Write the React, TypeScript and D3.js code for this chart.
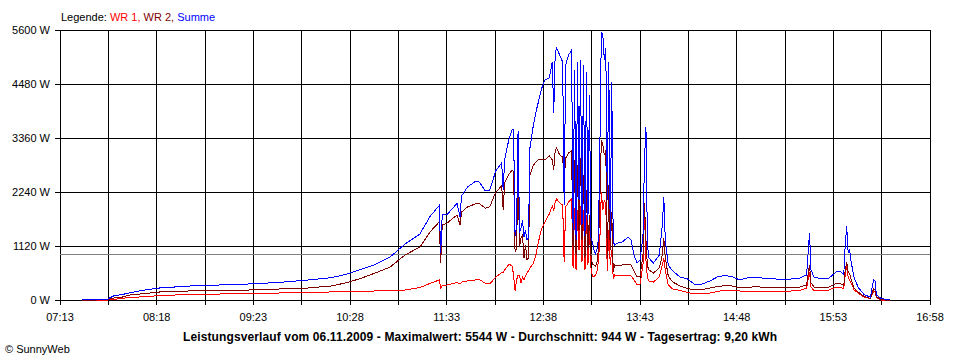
import * as d3 from 'd3';

// Time stamps of the samples (HH:MM) and power per inverter in W
const times = [
  '07:28', '07:38', '07:45', '07:49', '07:55', '08:00', '08:10', '08:20', '08:40', '09:00',
  '09:20', '09:40', '10:00', '10:15', '10:25', '10:35', '10:45', '10:55', '11:05', '11:15',
  '11:22', '11:28', '11:29', '11:30', '11:33', '11:40', '11:42', '11:43', '11:47', '11:52',
  '11:55', '11:59', '12:02', '12:06', '12:10', '12:11', '12:12', '12:15', '12:17', '12:18',
  '12:19', '12:20', '12:21', '12:22', '12:23', '12:24', '12:25', '12:26', '12:27', '12:28',
  '12:29', '12:31', '12:33', '12:35', '12:37', '12:39', '12:42', '12:44', '12:45', '12:46',
  '12:47', '12:49', '12:51', '12:52', '12:53', '12:55', '12:57', '12:58', '12:59', '13:00',
  '13:01', '13:02', '13:03', '13:04', '13:05', '13:06', '13:07', '13:08', '13:09', '13:10',
  '13:11', '13:12', '13:13', '13:14', '13:15', '13:16', '13:17', '13:18', '13:19', '13:20',
  '13:21', '13:22', '13:23', '13:24', '13:25', '13:26', '13:28', '13:31', '13:35', '13:37',
  '13:39', '13:41', '13:43', '13:45', '13:46', '13:47', '13:48', '13:49', '13:52', '13:56',
  '13:58', '13:59', '14:00', '14:02', '14:05', '14:10', '14:15', '14:20', '14:25', '14:30',
  '14:35', '14:40', '14:45', '14:50', '14:55', '15:00', '15:10', '15:20', '15:25', '15:30',
  '15:35', '15:37', '15:38', '15:40', '15:45', '15:50', '15:55', '15:58', '16:00', '16:01',
  '16:02', '16:03', '16:04', '16:05', '16:07', '16:10', '16:14', '16:18', '16:20', '16:21',
  '16:22', '16:25', '16:28', '16:31',
];

const wr1 = [
  0, 0, 0, 10, 35, 52, 68, 93, 114, 124,
  135, 145, 160, 166, 172, 176, 187, 197, 207, 259,
  346, 415, 249, 300, 311, 363, 330, 373, 394, 415,
  425, 346, 332, 477, 570, 560, 622, 747, 705, 519,
  187, 415, 519, 498, 353, 477, 415, 498, 560, 601,
  664, 747, 933, 1244, 1493, 1618, 1784, 1950, 1867, 2033,
  2095, 2012, 1970, 788, 1929, 2033, 2095, 664, 1908, 622,
  1867, 1037, 1950, 788, 1867, 622, 1763, 726, 1452, 664,
  498, 477, 519, 581, 788, 1244, 2240, 1867, 2074, 1970,
  601, 1452, 726, 1037, 456, 519, 498, 498, 508, 498,
  415, 311, 326, 726, 1825, 830, 456, 394, 373, 477,
  726, 871, 622, 311, 228, 197, 156, 124, 135, 145,
  176, 207, 201, 187, 180, 176, 172, 176, 187, 193,
  249, 581, 270, 197, 197, 207, 270, 259, 239, 519,
  726, 456, 415, 353, 207, 135, 56, 31, 176, 166,
  48, 0, 0, 0,
];

const wr2 = [
  0, 0, 10, 40, 62, 104, 135, 166, 187, 197,
  207, 228, 249, 290, 353, 445, 560, 684, 933, 1099,
  1420, 1618, 767, 1560, 1590, 1763, 1555, 1825, 1929, 1991,
  2001, 1902, 1935, 2240, 2364, 1867, 2427, 2613, 2696, 2655,
  996, 1078, 2675, 1099, 1286, 1348, 871, 1141, 830, 871,
  2593, 2779, 2862, 2924, 2924, 2904, 2987, 2904, 2696, 3111,
  3153, 3007, 2966, 2447, 2945, 3049, 3090, 1037, 2904, 933,
  2800, 1452, 2945, 1244, 2593, 871, 2281, 1037, 1763, 933,
  747, 726, 705, 767, 1037, 2074, 3318, 3215, 3007, 3111,
  871, 2385, 1037, 1825, 581, 726, 705, 726, 747, 726,
  601, 487, 498, 933, 2012, 1244, 705, 622, 560, 664,
  933, 1286, 871, 498, 373, 290, 239, 207, 218, 249,
  280, 297, 290, 249, 259, 276, 259, 253, 259, 263,
  311, 726, 353, 270, 249, 270, 342, 332, 301, 622,
  788, 581, 539, 415, 249, 156, 68, 35, 228, 207,
  62, 15, 0, 0,
];

const summe = [
  15, 15, 20, 83, 114, 151, 207, 249, 290, 311,
  332, 363, 415, 462, 529, 630, 735, 892, 1161, 1369,
  1740, 1960, 969, 1770, 1763, 2006, 1721, 2157, 2344, 2453,
  2447, 2261, 2281, 2675, 2841, 2281, 2904, 3360, 3526, 3526,
  1327, 1535, 3505, 1390, 1493, 1659, 1307, 1452, 1244, 1286,
  3153, 3567, 3899, 4148, 4397, 4563, 4604, 4936, 3878, 5143,
  5226, 5081, 4936, 1970, 4874, 5081, 5185, 1452, 4770, 1244,
  4936, 2074, 4977, 1555, 4874, 1327, 4729, 1659, 4252, 1286,
  1203, 1037, 954, 1037, 1244, 3111, 5544, 5517, 4977, 5226,
  2074, 4936, 1286, 4521, 1203, 1141, 1182, 1203, 1307, 1244,
  933, 767, 830, 1327, 2904, 3588, 1141, 871, 767, 933,
  1555, 2136, 1244, 726, 601, 477, 436, 321, 332, 394,
  477, 508, 487, 415, 456, 467, 446, 421, 436, 450,
  519, 1390, 622, 477, 436, 456, 581, 581, 519, 1141,
  1535, 975, 1037, 788, 456, 249, 104, 62, 415, 394,
  104, 35, 15, 0,
];

const yTicks = [0, 1120, 2240, 3360, 4480, 5600];
const average = 944;
const legendItems = [
  { label: 'WR 1, ', color: '#ff0000' },
  { label: 'WR 2, ', color: '#800000' },
  { label: 'Summe', color: '#0000ff' },
];
const titleText =
  'Leistungsverlauf vom 06.11.2009 - Maximalwert: 5544 W - Durchschnitt: 944 W - Tagesertrag: 9,20 kWh';

const W = 960;
const H = 360;
const margin = { left: 60, right: 30, top: 30, bottom: 60 };
const font = '"Liberation Sans", Arial, sans-serif';

export default function App() {
  const parse = d3.timeParse('%H:%M');
  const fmt = d3.timeFormat('%H:%M');
  const t0 = parse('07:13') as Date;
  const t1 = parse('16:58') as Date;

  const x = d3.scaleTime().domain([t0, t1]).range([margin.left, W - margin.right]);
  const y = d3.scaleLinear().domain([0, 5600]).range([H - margin.bottom, margin.top]);

  // vertical grid every 32.5 minutes (18 steps), labels on every second one
  const step = 32.5 * 60000;
  const xTicks = d3.range(0, 19).map((i) => new Date(t0.getTime() + i * step));

  const dates = times.map((t) => parse(t) as Date);
  const line = d3
    .line<number>()
    .x((_, i) => x(dates[i]))
    .y((v) => y(v));

  const series = [
    { values: wr1, color: '#ff0000' },
    { values: wr2, color: '#800000' },
    { values: summe, color: '#0000ff' },
  ];

  const x0 = margin.left;
  const x1 = W - margin.right;
  const yb = H - margin.bottom;

  return (
    <svg
      width={W}
      height={H}
      style={{ position: 'absolute', left: 0, top: 0, background: '#fff' }}
      fontFamily={font}
    >
      {/* legend */}
      <text x={61} y={20.5} fontSize={11}>
        <tspan fill="#000">Legende: </tspan>
        {legendItems.map((d) => (
          <tspan key={d.label} fill={d.color}>
            {d.label}
          </tspan>
        ))}
      </text>

      {/* grid */}
      <g shapeRendering="crispEdges" stroke="#000" strokeWidth={1}>
        {yTicks.map((v) => (
          <line key={v} x1={x0 - 5} x2={x1} y1={y(v)} y2={y(v)} />
        ))}
        {xTicks.map((t, i) => (
          <line key={i} x1={x(t)} x2={x(t)} y1={margin.top} y2={yb + 5} />
        ))}
      </g>

      {/* y labels */}
      {yTicks.map((v) => (
        <text key={v} x={50} y={y(v) + 4} fontSize={11} textAnchor="end">
          {v} W
        </text>
      ))}

      {/* x labels */}
      {xTicks
        .filter((_, i) => i % 2 === 0)
        .map((t, i) => (
          <text key={i} x={x(t)} y={321} fontSize={11} textAnchor="middle">
            {fmt(t)}
          </text>
        ))}

      {/* average */}
      <line
        x1={x0}
        x2={x1}
        y1={Math.round(y(average)) + 0.5}
        y2={Math.round(y(average)) + 0.5}
        stroke="#808080"
        strokeWidth={1}
      />

      {/* series */}
      {series.map((s) => (
        <path
          key={s.color}
          d={line(s.values) ?? ''}
          fill="none"
          stroke={s.color}
          strokeWidth={1}
          shapeRendering="crispEdges"
        />
      ))}

      <text
        x={183}
        y={340.5}
        fontSize={12}
        fontWeight="bold"
        textLength={594}
        lengthAdjust="spacing"
      >
        {titleText}
      </text>
      <text x={5} y={352.5} fontSize={11}>
        © SunnyWeb
      </text>
    </svg>
  );
}
